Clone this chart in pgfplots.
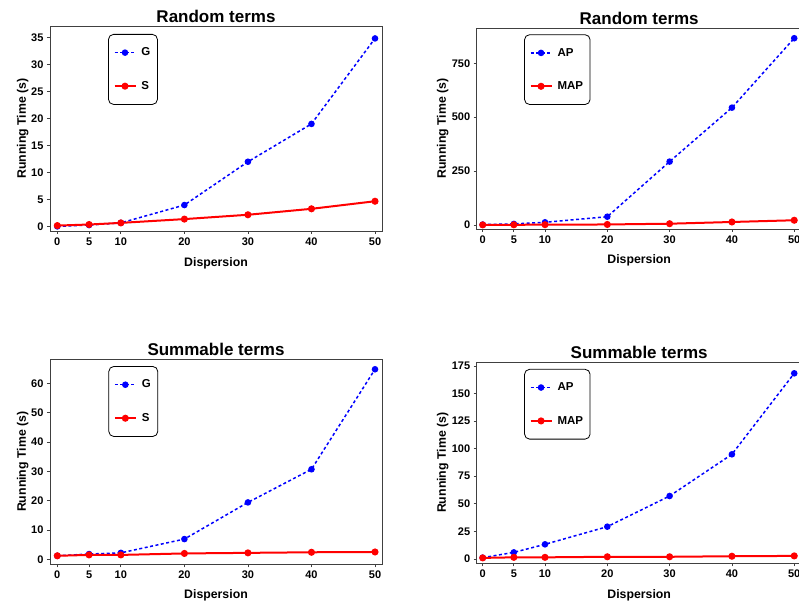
\documentclass[border=0pt]{standalone}
\usepackage{fontspec}
\setmainfont{Liberation Sans}
\usepackage{pgfplots}
\pgfplotsset{compat=1.18}
\pgfplotsset{
  myax/.style={
    scale only axis,
    axis line style={black!75, line width=0.8bp},
    every tick/.style={black!75, line width=0.8bp},
    tick align=outside,
    major tick length=3bp,
    xtick pos=bottom, ytick pos=left,
    xtick={0,5,10,20,30,40,50},
    /pgf/number format/assume math mode=true,
    tick label style={font=\fontsize{11bp}{13bp}\selectfont\bfseries},
    title style={font=\fontsize{17bp}{19bp}\selectfont\bfseries, at={(axis description cs:0.5,1)}, anchor=base, yshift=-2.5bp},
    label style={font=\fontsize{12.3bp}{14bp}\selectfont\bfseries},
    xlabel={Dispersion}, ylabel={Running Time (s)},
    legend style={draw=black, line width=0.8bp, rounded corners=5bp, anchor=north west,
      font=\fontsize{11.5bp}{13bp}\selectfont\bfseries, inner xsep=5bp, inner ysep=11.5bp, row sep=20bp,
      column sep=3bp, legend cell align=left},
    legend image code/.code={\draw[mark repeat=2,mark phase=2,##1] plot coordinates {(0bp,0bp) (10.5bp,0bp) (21bp,0bp)};},
  },
  gstyle/.style={blue, line width=1.5bp, dash pattern=on 3bp off 2.5bp, mark=*, mark size=2.5bp, mark options={solid, fill=blue}},
  sstyle/.style={red, line width=2bp, mark=*, mark size=2.5bp, mark options={solid, fill=red}},
}
\begin{document}
\begin{tikzpicture}
\useasboundingbox (0,0) rectangle (799bp,603bp);
\clip (0,0) rectangle (799bp,603bp);
% Top-left
\begin{axis}[myax, at={(50bp,372bp)}, anchor=south west, width=332bp, height=205bp,
  xmin=-1.15, xmax=51.1, ymin=-0.8, ymax=37.1, ytick={0,5,...,35},
  title={Random terms},
  xlabel style={at={(axis description cs:0.5,-0.171)}, anchor=base},
  ylabel style={at={(axis description cs:-0.0723,0.5)}, anchor=base},
  legend style={at={(axis description cs:0.175,0.961)}}]
\addplot[gstyle] coordinates {(0,0.05) (5,0.3) (10,0.7) (20,4.0) (30,12.0) (40,19.0) (50,34.8)};
\addplot[sstyle] coordinates {(0,0.2) (5,0.4) (10,0.7) (20,1.4) (30,2.2) (40,3.3) (50,4.7)};
\legend{G,S}
\end{axis}
% Top-right
\begin{axis}[myax, at={(476.7bp,374bp)}, anchor=south west, width=325bp, height=200.7bp,
  xmin=-0.96, xmax=51.2, ymin=-18.5, ymax=912, ytick={0,250,500,750},
  title={Random terms},
  xlabel style={at={(axis description cs:0.5,-0.172)}, anchor=base},
  ylabel style={at={(axis description cs:-0.0945,0.5)}, anchor=base},
  legend style={at={(axis description cs:0.146,0.970)}}]
\addplot[gstyle] coordinates {(0,2) (5,5) (10,12.5) (20,38.5) (30,294) (40,544) (50,866)};
\addplot[sstyle] coordinates {(0,0.5) (5,1) (10,1.5) (20,2.5) (30,6) (40,14) (50,22)};
\legend{AP,MAP}
\end{axis}
% Bottom-left
\begin{axis}[myax, at={(50bp,38.7bp)}, anchor=south west, width=332bp, height=205bp,
  xmin=-1.15, xmax=51.1, ymin=-1.7, ymax=68.2, ytick={0,10,...,60},
  title={Summable terms},
  xlabel style={at={(axis description cs:0.5,-0.167)}, anchor=base},
  ylabel style={at={(axis description cs:-0.0723,0.5)}, anchor=base},
  legend style={at={(axis description cs:0.176,0.967)}}]
\addplot[gstyle] coordinates {(0,1.2) (5,1.8) (10,2.2) (20,6.9) (30,19.4) (40,30.7) (50,64.8)};
\addplot[sstyle] coordinates {(0,1.2) (5,1.5) (10,1.5) (20,2.0) (30,2.2) (40,2.4) (50,2.5)};
\legend{G,S}
\end{axis}
% Bottom-right
\begin{axis}[myax, at={(476.7bp,39.7bp)}, anchor=south west, width=325bp, height=201bp,
  xmin=-0.96, xmax=51.2, ymin=-3.9, ymax=178.3, ytick={0,25,...,175},
  title={Summable terms},
  xlabel style={at={(axis description cs:0.5,-0.173)}, anchor=base},
  ylabel style={at={(axis description cs:-0.0945,0.5)}, anchor=base},
  legend style={at={(axis description cs:0.146,0.967)}}]
\addplot[gstyle] coordinates {(0,1.2) (5,6) (10,13.3) (20,29.3) (30,57.1) (40,94.9) (50,168.3)};
\addplot[sstyle] coordinates {(0,1) (5,1.5) (10,1.5) (20,2) (30,2) (40,2.5) (50,2.8)};
\legend{AP,MAP}
\end{axis}
\end{tikzpicture}
\end{document}
